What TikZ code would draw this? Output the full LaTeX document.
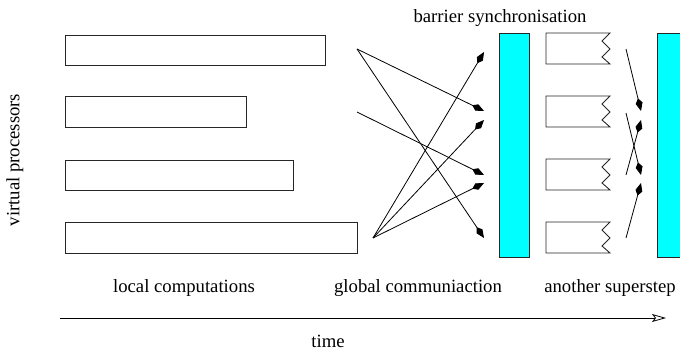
\documentclass[tikz,border=0pt]{standalone}
\usepackage{fontspec}
\setmainfont{Liberation Serif}
\usetikzlibrary{arrows.meta}
\definecolor{barcyan}{RGB}{0,255,255}
\begin{document}
\begin{tikzpicture}[x=1pt,y=-1pt,
  procbox/.style={draw=black!85,line width=0.9pt,rectangle,inner sep=0pt,anchor=north west},
  barbox/.style={draw=black!85,fill=barcyan,line width=0.9pt,rectangle,inner sep=0pt,anchor=north west},
  msg/.style={line width=0.8pt,-{Kite[length=13pt,width=7pt,inset=5pt]}},
  lbl/.style={font=\fontsize{18.7}{22}\selectfont,inner sep=0pt},
  zig/.style={draw=black!85,line width=0.9pt}]
\useasboundingbox (0,0) rectangle (680,352);
% local computation boxes
\node[procbox,minimum width=260pt,minimum height=30pt] (p1) at (65,35) {};
\node[procbox,minimum width=181pt,minimum height=31pt] (p2) at (65,96) {};
\node[procbox,minimum width=228pt,minimum height=30pt] (p3) at (65,160) {};
\node[procbox,minimum width=292pt,minimum height=31pt] (p4) at (65,222) {};
% barriers
\node[barbox,minimum width=30pt,minimum height=224pt] (b1) at (499,33) {};
\node[barbox,minimum width=30pt,minimum height=224pt] (b2) at (657,33) {};
% next superstep boxes with broken right edge
\foreach \i/\t in {1/33,2/96,3/159,4/222}{
  \coordinate (q\i) at (546,\t);
  \draw[zig] (610,\t) -- (546,\t) -- (546,\t+31) -- (610,\t+31)
    -- (602,\t+24) -- (610,\t+16) -- (602,\t+8) -- cycle;
}
% global communication
\coordinate (s1) at (357,49);
\coordinate (s2) at (357,112);
\coordinate (s4) at (373,238);
\coordinate (t1) at (484,52);
\coordinate (t2) at (484,111);
\coordinate (t3) at (484,120);
\coordinate (t4) at (484,175);
\coordinate (t5) at (484,183);
\coordinate (t6) at (484,238);
\draw[msg] (s1) -- (t2);
\draw[msg] (s1) -- (t6);
\draw[msg] (s2) -- (t4);
\draw[msg] (s4) -- (t1);
\draw[msg] (s4) -- (t3);
\draw[msg] (s4) -- (t5);
% another superstep communication
\coordinate (u0) at (626,49);
\coordinate (u2) at (626,113);
\coordinate (u3) at (626,175);
\coordinate (u4) at (626,238);
\coordinate (v1) at (641,111);
\coordinate (v2) at (641,120);
\coordinate (v3) at (641,175);
\coordinate (v4) at (641,183);
\draw[msg] (u0) -- (v1);
\draw[msg] (u2) -- (v3);
\draw[msg] (u3) -- (v2);
\draw[msg] (u4) -- (v4);
% time axis
\coordinate (ta) at (60,318);
\coordinate (tb) at (666,318);
\draw[line width=0.8pt,-{Stealth[open,length=14pt,width=8pt,inset=3pt]}] (ta) -- (tb);
% labels
\node[lbl] (lb) at (500,18) {barrier synchronisation};
\node[lbl,anchor=base] (lc) at (184,293) {local computations};
\node[lbl,anchor=base] (lg) at (418,293) {global communiaction};
\node[lbl,anchor=base] (ls) at (610,293) {another superstep};
\node[lbl,anchor=base] (lt) at (328,348) {time};
\node[lbl,rotate=90] (lv) at (15,160) {virtual processors};
\end{tikzpicture}
\end{document}
